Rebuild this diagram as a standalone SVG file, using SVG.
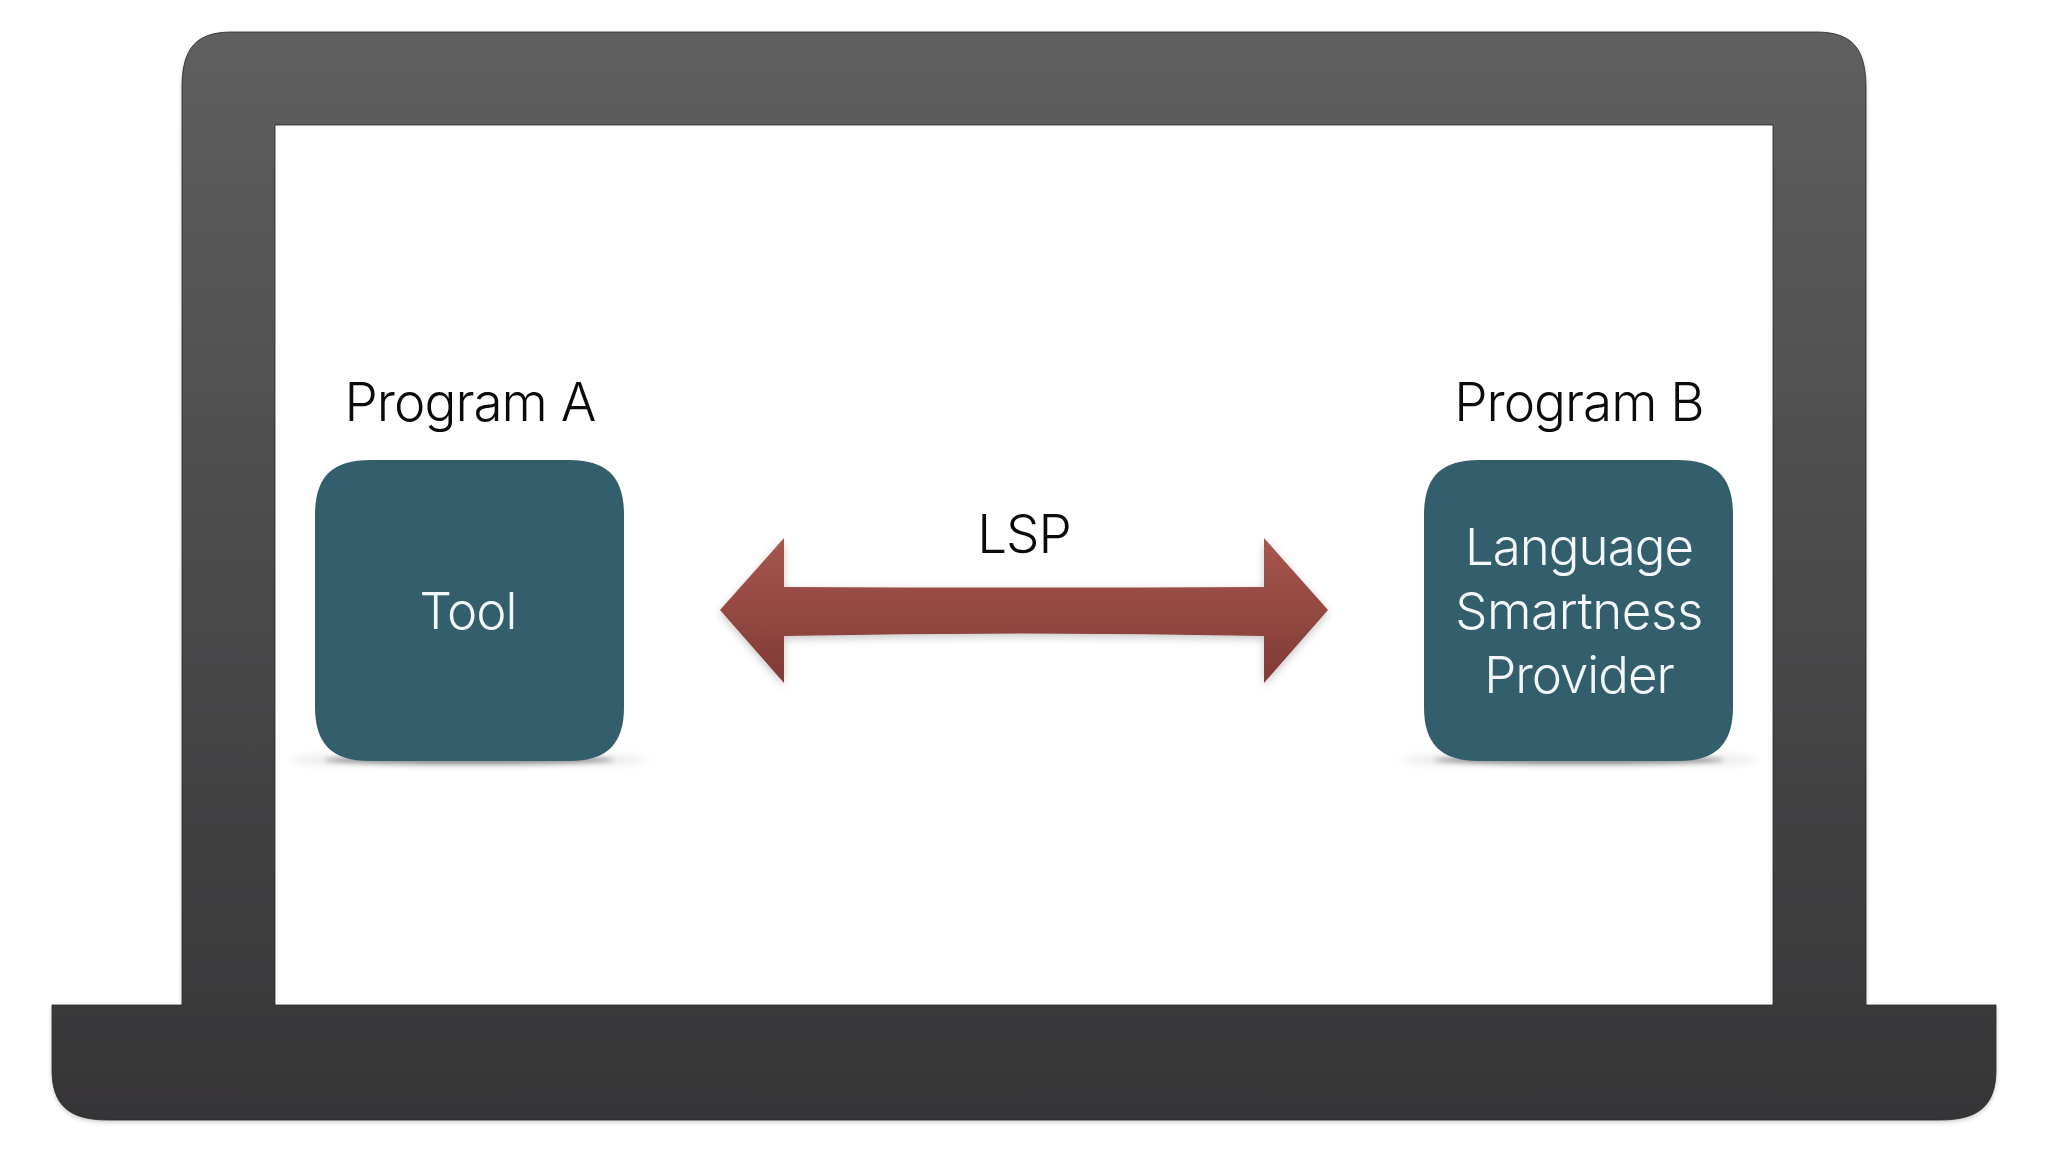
<svg xmlns="http://www.w3.org/2000/svg" width="2048" height="1152" viewBox="0 0 2048 1152">
<defs>
<linearGradient id="frame" x1="0" y1="0" x2="0" y2="1"><stop offset="0" stop-color="#5f5f5f"/><stop offset="1" stop-color="#363537"/></linearGradient>
<linearGradient id="arrow" x1="0" y1="0" x2="0" y2="1"><stop offset="0" stop-color="#a8564e"/><stop offset="1" stop-color="#7f3b35"/></linearGradient>
<filter id="blur" x="-20%" y="-300%" width="140%" height="700%"><feGaussianBlur stdDeviation="5"/></filter>
<filter id="blur2" x="-20%" y="-300%" width="140%" height="700%"><feGaussianBlur stdDeviation="2.5"/></filter>
<filter id="ashadow" x="-10%" y="-20%" width="120%" height="140%"><feDropShadow dx="0" dy="3" stdDeviation="4" flood-color="#000" flood-opacity="0.22"/></filter>
<filter id="lshadow" x="-5%" y="-5%" width="110%" height="110%"><feDropShadow dx="0" dy="2" stdDeviation="2" flood-color="#000" flood-opacity="0.2"/></filter>
<path id="box" d="M55 0H254C292 0 309 17 309 55V247C309 284 292 301 254 301H55C17 301 0 284 0 247V55C0 17 17 0 55 0Z"/>
</defs>
<style>
.t{font-family:"Inter","Liberation Sans",Arial,sans-serif;font-weight:300;font-size:51px;letter-spacing:-1px;text-anchor:middle}
.dark{fill:#0b0b0b;font-size:53px;letter-spacing:-1px}
.light{fill:#f4f7f8}
.box{fill:#335e6c}
</style>
<rect width="2048" height="1152" fill="#fff"/>
<g id="laptop">
<path fill="url(#frame)" stroke="#262626" stroke-width="0.8" filter="url(#lshadow)" d="M232 32H1816C1852 32 1866 48 1866 88V1005H1996V1070C1996 1106 1978 1120 1940 1120H108C70 1120 52 1106 52 1070V1005H182V88C182 48 196 32 232 32Z"/>
<rect x="275" y="125" width="1498" height="880" fill="#fff" stroke="#262626" stroke-width="0.8"/>
</g>
<g id="node-a">
<text class="t dark" x="470" y="421">Program A</text>
<ellipse cx="469" cy="760" rx="180" ry="4" fill="#000" opacity="0.16" filter="url(#blur)"/>
<ellipse cx="469" cy="760" rx="145" ry="4" fill="#000" opacity="0.4" filter="url(#blur2)"/>
<use href="#box" class="box" x="315" y="460"/>
<text class="t light" x="468" y="629">Tool</text>
</g>
<g id="node-b">
<text class="t dark" x="1579" y="421">Program B</text>
<ellipse cx="1579" cy="760" rx="180" ry="4" fill="#000" opacity="0.16" filter="url(#blur)"/>
<ellipse cx="1579" cy="760" rx="145" ry="4" fill="#000" opacity="0.4" filter="url(#blur2)"/>
<use href="#box" class="box" x="1424" y="460"/>
<text class="t light" x="1579" y="565">Language</text>
<text class="t light" x="1579" y="629" style="letter-spacing:-0.4px">Smartness</text>
<text class="t light" x="1579" y="693">Provider</text>
</g>
<g id="connectors">
<path fill="url(#arrow)" filter="url(#ashadow)" d="M720 610L784 538V587Q1024 588 1264 587V538L1328 610L1264 683V636Q1024 631 784 636V683Z"/>
<text class="t dark" x="1024" y="553">LSP</text>
</g>
</svg>
